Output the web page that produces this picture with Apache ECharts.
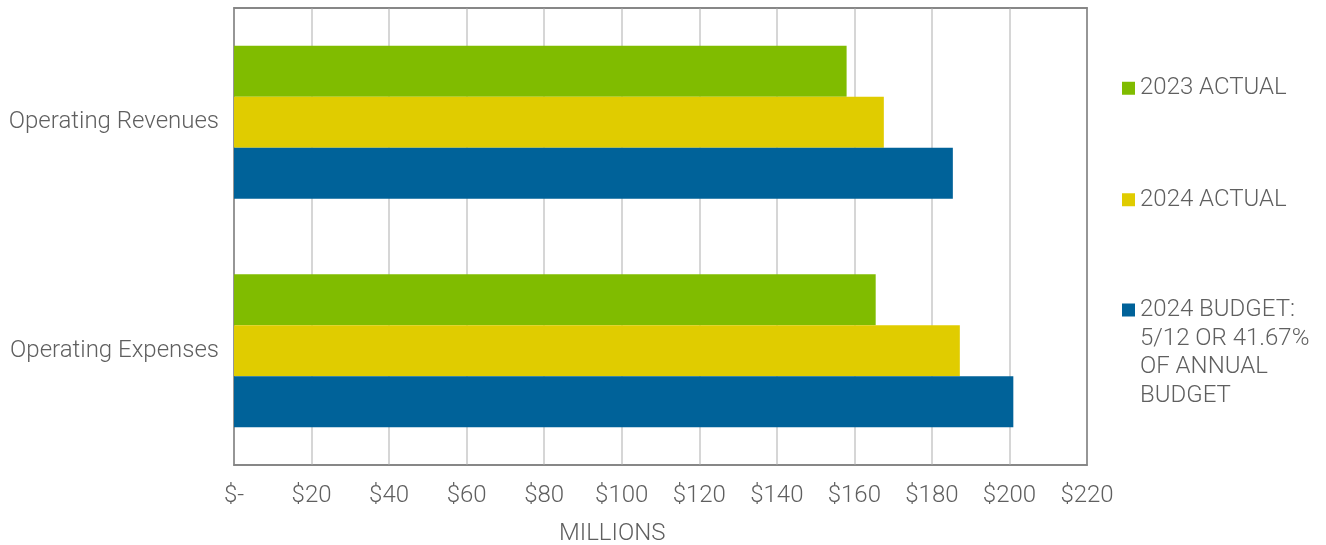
<!DOCTYPE html>
<html>
<head>
<meta charset="utf-8">
<script src="https://cdn.jsdelivr.net/npm/echarts@6/dist/echarts.min.js"></script>
<style>html,body{margin:0;padding:0;background:#fff;}#c{width:1326px;height:545px;}</style>
</head>
<body>
<div id="c"></div>
<script>
const categories = ['Operating Revenues', 'Operating Expenses'];
const seriesNames = ['2023 ACTUAL', '2024 ACTUAL', '2024 BUDGET:\n5/12 OR 41.67%\nOF ANNUAL\nBUDGET'];
const actual2023 = [158.0, 165.5];
const actual2024 = [167.6, 187.2];
const budget2024 = [185.4, 201.0];
const xTicks = [0, 20, 40, 60, 80, 100, 120, 140, 160, 180, 200, 220];
const colors = ['#80BC00', '#E0CC00', '#006299'];

const FONT = 'Roboto';
const FW = 300;
const TXT = '#5f5f5f';
const BORDER = '#808080';
const chart = echarts.init(document.getElementById('c'));
const values = [actual2023, actual2024, budget2024];

// legend layout: single-line items, and a tall icon for the 4-line item so the square sits on line 1
const legendTops = [74, 185.5, 296];
const legendItemH = [13, 13, 114];
const legendIcons = [
  'rect', 'rect',
  'path://M0,0L0.01,0L0,0.01Z M0,7.5L13,7.5L13,20.5L0,20.5Z M13,114L12.99,114L13,113.99Z'
];

chart.setOption({
  animation: false,
  textStyle: { fontFamily: FONT },
  grid: { left: 234, right: 239, top: 8, bottom: 80, show: true, borderColor: BORDER, borderWidth: 1.5, containLabel: false },
  xAxis: [{
    type: 'value', min: xTicks[0], max: xTicks[xTicks.length - 1], interval: xTicks[1] - xTicks[0],
    axisLine: { show: true, lineStyle: { color: BORDER, width: 1.5 } },
    axisTick: { show: false },
    splitLine: { show: true, lineStyle: { color: '#d6d6d6', width: 2 } },
    axisLabel: {
      color: TXT, fontSize: 24, fontWeight: FW, fontFamily: FONT, margin: 19,
      formatter: v => (v === 0 ? '$-' : '$' + v)
    }
  }, {
    type: 'value', position: 'top', min: xTicks[0], max: xTicks[xTicks.length - 1],
    axisLine: { show: true, onZero: false, lineStyle: { color: BORDER, width: 1.5 } },
    axisTick: { show: false }, axisLabel: { show: false }, splitLine: { show: false }
  }],
  yAxis: [{
    type: 'category', data: categories, inverse: true,
    axisLine: { show: true, onZero: false, lineStyle: { color: BORDER, width: 1.5 } }, axisTick: { show: false },
    axisLabel: { color: TXT, fontSize: 24, fontWeight: FW, fontFamily: FONT, margin: 15, padding: [8, 0, 0, 0] }
  }, {
    type: 'category', data: categories, inverse: true, position: 'right',
    axisLine: { show: true, onZero: false, lineStyle: { color: BORDER, width: 1.5 } },
    axisTick: { show: false }, axisLabel: { show: false }, splitLine: { show: false }
  }],
  legend: seriesNames.map((n, i) => ({
    data: [n], orient: 'vertical', left: 1122, top: legendTops[i], padding: 0,
    icon: legendIcons[i], itemWidth: 13, itemHeight: legendItemH[i], itemGap: 6,
    textStyle: { color: TXT, fontSize: 24, fontWeight: FW, fontFamily: FONT, lineHeight: 28.5 }
  })),
  graphic: [{
    type: 'text', left: 559, top: 521.5,
    style: { text: 'MILLIONS', fill: TXT, font: FW + ' 24px Roboto' }
  }],
  series: values.map((d, i) => ({
    name: seriesNames[i], type: 'bar', data: d,
    barGap: '0%', barCategoryGap: '33%',
    itemStyle: { color: colors[i] }
  }))
});
</script>
</body>
</html>
